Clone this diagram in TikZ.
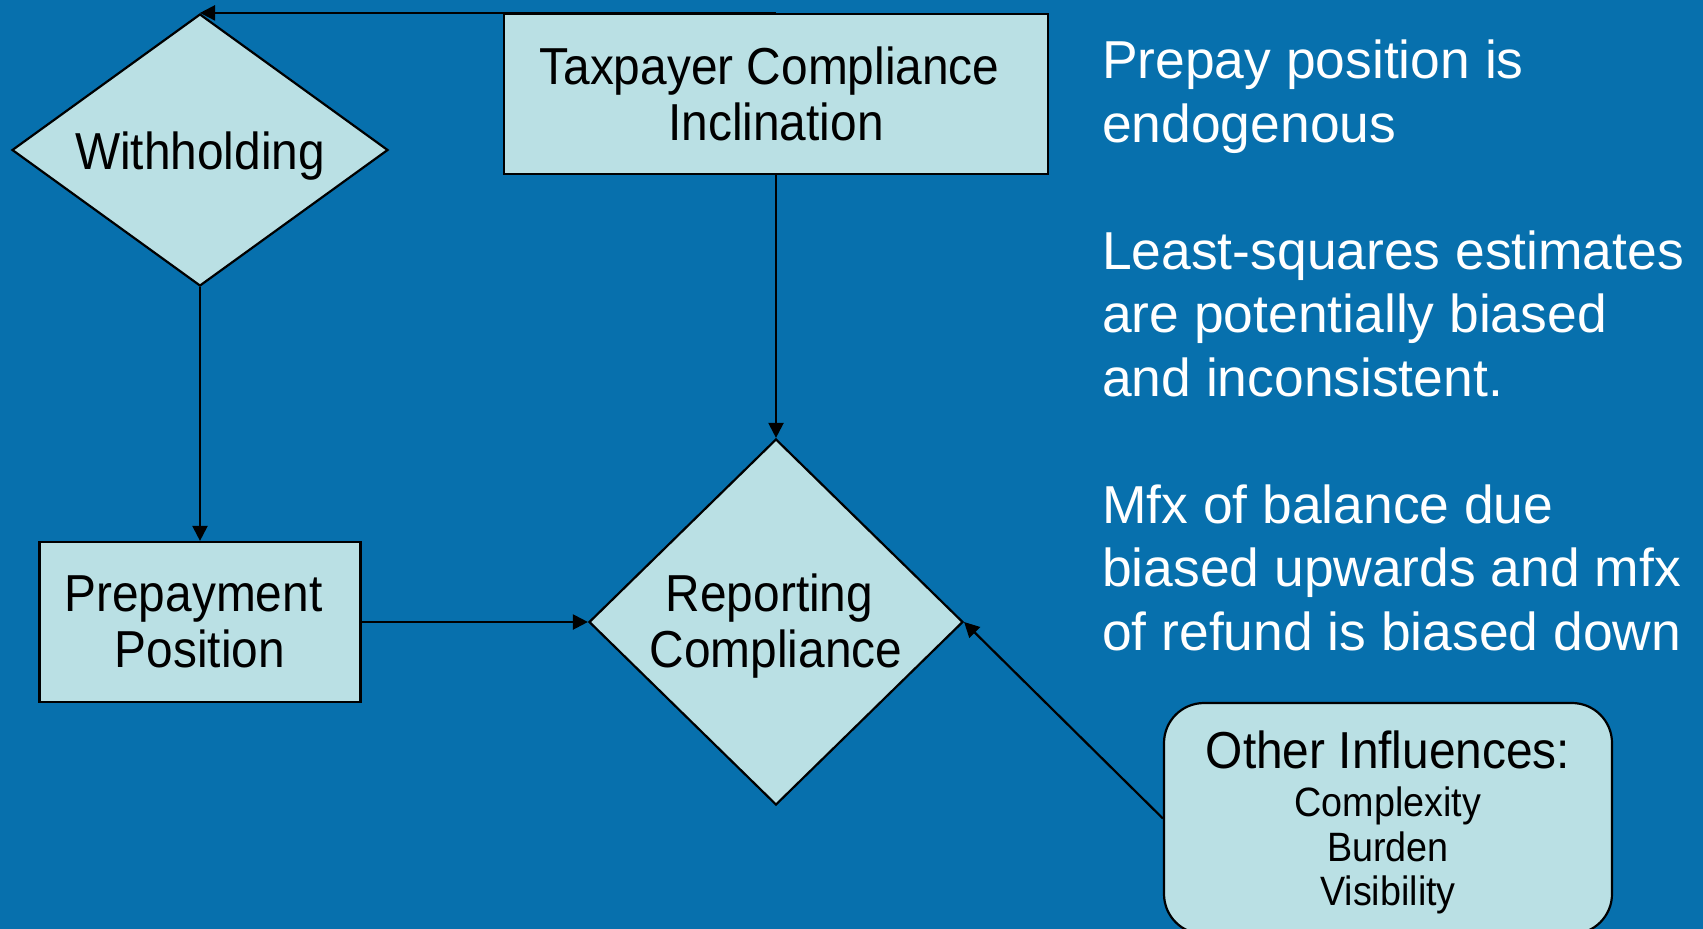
\documentclass[tikz,border=0pt]{standalone}
\usepackage{fontspec}
\setmainfont{Liberation Sans}
\newfontfamily\narrowsans[FakeStretch=0.92]{Liberation Sans}
\usetikzlibrary{shapes.geometric,arrows.meta}

\definecolor{slidebg}{RGB}{7,112,173}
\definecolor{boxfill}{RGB}{186,224,228}

% trailing space kept at the end of a wrapped line
\newcommand{\trail}{\hspace*{13pt}}
% smaller type for the listed influences
\newcommand{\subsize}{\fontsize{41}{44}\selectfont}

\begin{document}
\begin{tikzpicture}[x=1pt,y=-1pt,
  flowbox/.style={draw=black, line width=2.2pt, fill=boxfill, text=black,
    inner sep=0pt, align=center, font=\narrowsans\fontsize{52}{56}\selectfont},
  decision/.style={flowbox, diamond},
  link/.style={draw=black, line width=2.2pt, -{Triangle[length=15pt,width=15pt]}},
  note/.style={text=white, inner sep=0pt, align=left, anchor=north west,
    font=\fontsize{53.4}{63.5}\selectfont}]

% slide background
\useasboundingbox (0,0) rectangle (1703,929);
\fill[slidebg] (0,0) rectangle (1703,929);
\clip (0,0) rectangle (1703,929);

% flow chart
\node[decision, minimum width=376pt, minimum height=272pt, shape aspect=1.38]
  (with) at (200,150) {\rule{0pt}{50pt}Withholding};
\node[flowbox, minimum width=544pt, minimum height=160pt]
  (tax) at (776,94) {Taxpayer Compliance\trail\\Inclination};
\node[flowbox, minimum width=321pt, minimum height=160pt]
  (prep) at (200,622) {Prepayment\trail\\Position};
\node[decision, minimum width=374pt, minimum height=366pt, shape aspect=1.02]
  (rep) at (776,622) {\rule{0pt}{46pt}Reporting\trail\\Compliance};
\node[flowbox, rounded corners=40pt, minimum width=448pt, minimum height=231pt]
  (other) at (1388,818.5)
  {\rule{0pt}{46pt}Other Influences:\\[-8pt]{\subsize Complexity}\\[-11.5pt]{\subsize Burden}\\[-11.5pt]{\subsize Visibility}};

% connectors
\draw[link] (tax.north) -- (tax.north -| with.north);
\draw[link] (tax.south) -- (rep.north);
\draw[link] (with.south) -- (prep.north);
\draw[link] (prep.east) -- (rep.west);
\draw[link] (other.west) -- (rep.east);

% remarks
\node[note] (remarks) at (1102,40)
  {Prepay position is\\endogenous\\[63.5pt]Least-squares estimates\\are potentially biased\\and inconsistent.\\[63.5pt]Mfx of balance due\\biased upwards and mfx\\of refund is biased down};
\end{tikzpicture}
\end{document}
